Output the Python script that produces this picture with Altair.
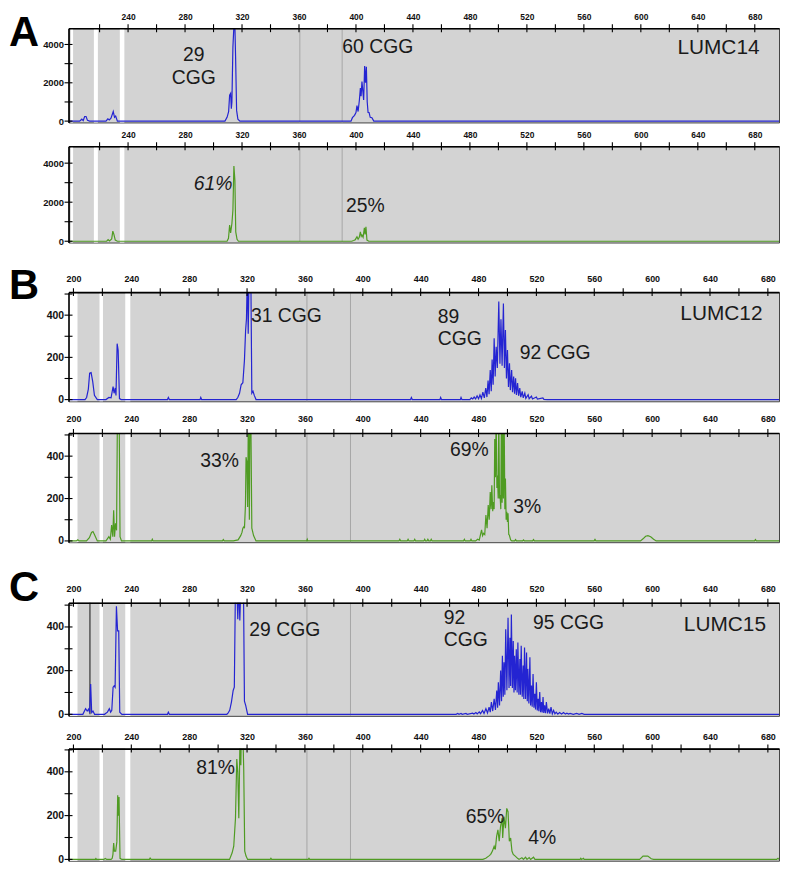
import altair as alt
import pandas as pd

# ---------------- axes / scale data ----------------
A_XDOM = [198.2, 697.0]
BC_XDOM = [196.6, 687.7]
A_XTICKS = [220, 240, 260, 280, 300, 320, 340, 360, 380, 400, 420, 440, 460, 480, 500,
            520, 540, 560, 580, 600, 620, 640, 660, 680]
A_XLABELS = [240, 280, 320, 360, 400, 440, 480, 520, 560, 600, 640, 680]
BC_XTICKS = [200] + A_XTICKS
BC_XLABELS = [200] + A_XLABELS
A_YTICKS = [0, 1000, 2000, 3000, 4000]
A_YLABELS = [0, 2000, 4000]
BC_YTICKS = [0, 100, 200, 300, 400, 500]
BC_YLABELS = [0, 200, 400]

# white lanes and grey marker lines
A_WHITE_START = [199.8, 216.0, 234.2]
A_WHITE_END = [201.4, 218.8, 237.4]
BC_WHITE_START = [196.6, 218.0, 235.8]
BC_WHITE_END = [202.8, 220.4, 239.3]
A_GREY = [360.6, 390.3]
BC_GREY = [361.4, 391.5]

# ---------------- traces (size, intensity) ----------------
A1_TRACE = [
    (198.2, 0), (206, 0), (207.5, 100), (208.5, 20), (209.5, 240), (210.5, 240), (211.5, 40), (213, 0),
    (224.5, 0), (225.8, 120), (226.8, 60), (228, 150), (229.6, 500), (230.5, 200), (231.3, 260), (232.5, 0),
    (308, 0), (309.5, 200), (310.6, 500), (311.3, 1360), (312.0, 1450), (312.5, 650), (312.9, 1000),
    (313.6, 3850), (314.3, 4950), (315.0, 4950), (315.5, 3300), (316.2, 560), (317.1, 100), (318.5, 0),
    (396.5, 0), (397.5, 180), (399, 300), (400.0, 450), (400.7, 810), (401.5, 500), (402.4, 1100),
    (403.1, 1720), (403.6, 1300), (404.2, 2060), (404.8, 1580), (405.4, 1100), (406.1, 2870),
    (406.7, 2000), (407.3, 2840), (407.9, 1000), (408.5, 450), (409.2, 450), (410, 200), (411.2, 180),
    (412.5, 0), (697, 0)]

A2_TRACE = [
    (198.2, 0), (225, 0), (226, 80), (227, 20), (228.5, 120), (229.3, 520), (230.1, 340), (231.0, 60), (232.5, 0),
    (309.5, 0), (310.5, 150), (311.3, 825), (312.0, 430), (312.9, 910), (313.6, 1590), (314.3, 3850),
    (315.0, 3120), (315.6, 480), (316.5, 100), (317.5, 0),
    (397, 0), (398.4, 40), (399.5, 80), (400.7, 230), (401.5, 100), (402.3, 200), (403.1, 485),
    (403.7, 250), (404.2, 316), (405.0, 200), (405.9, 690), (406.4, 350), (407.0, 740), (407.7, 60),
    (409, 0), (697, 0)]

B1_TRACE = [
    (196.6, 0), (208, 0), (209.1, 10), (210.3, 50), (211.2, 125), (212.2, 128), (213.3, 86), (214.5, 20),
    (216.5, 0), (222.5, 0), (224.5, 10), (226, 8), (227.4, 62), (228.1, 30), (228.9, 55), (229.4, 20),
    (230.2, 265), (230.9, 234), (231.8, 5), (233, 0), (265, 0), (265.6, 10), (266.3, 0), (287.5, 0),
    (288, 10), (288.6, 0), (312.5, 0), (313.6, 10), (314.8, 30), (315.9, 70), (317.1, 80), (318.2, 187),
    (319, 328), (319.6, 383), (320.2, 600), (320.8, 312), (321.4, 600), (322.6, 600), (323.3, 31),
    (324.1, 40), (325, 20), (326.2, 0), (433, 0), (433.6, 10), (434.2, 0), (453.3, 0), (453.8, 10),
    (454.4, 0), (467.4, 0), (467.9, 10), (468.5, 0), (474, 0), (475, 8), (476, 3), (477, 12), (478, 3),
    (479, 18), (480, 4), (481, 22), (482, 5), (483, 35), (484, 8), (485, 55), (485.8, 12), (486.6, 90),
    (487.3, 25), (488.1, 140), (488.8, 40), (489.4, 190), (490.1, 70), (490.8, 290), (491.5, 110),
    (492.2, 250), (493.0, 150), (494.0, 465), (494.8, 170), (495.5, 380), (496.3, 160), (497.2, 455),
    (497.9, 150), (498.6, 330), (499.3, 100), (500.0, 235), (500.7, 60), (501.4, 172), (502.0, 45),
    (502.9, 140), (503.5, 35), (504.3, 109), (504.9, 28), (505.6, 101), (506.2, 22), (507.0, 78),
    (507.7, 18), (508.5, 55), (509.2, 12), (510.2, 39), (510.9, 8), (512.0, 31), (512.7, 6),
    (514.3, 23), (515.0, 4), (516.6, 16), (517.3, 3), (520.0, 12), (520.7, 2), (524.5, 8), (525.2, 1),
    (527.5, 0), (687.7, 0)]

B2_TRACE = [
    (196.6, 0), (202, 0), (203, 5), (204, 0), (209, 0), (211, 15), (212.5, 40), (213.5, 44), (214.5, 30),
    (216.5, 0), (222.5, 0), (224.5, 20), (225.5, 8), (226.4, 75), (227.2, 20), (227.8, 145), (228.4, 20),
    (229.1, 83), (229.8, 50), (230.4, 600), (231.1, 600), (231.6, 600), (232.2, 20), (233.2, 0),
    (254, 0), (254.5, 8), (255, 0), (303, 0), (303.6, 6), (304.2, 0), (310.5, 0), (313.8, 5),
    (315.6, 25), (316.5, 40), (317.1, 60), (317.8, 67), (318.2, 60), (318.9, 169), (319.3, 395),
    (319.9, 372), (320.4, 160), (320.9, 600), (321.6, 100), (322.0, 600), (322.6, 600), (323.3, 60),
    (324.5, 25), (326.2, 0), (361.2, 0), (361.6, 8), (362, 0), (425, 0), (425.6, 8), (426.2, 0),
    (430.7, 0), (431.3, 8), (431.9, 0), (435.3, 0), (435.9, 8), (436.5, 0), (442.2, 0), (442.8, 8),
    (443.4, 0), (444.4, 0), (445, 8), (445.6, 0), (446.7, 0), (447.3, 8), (447.9, 0), (469.6, 0),
    (470.2, 8), (470.8, 0), (474.2, 0), (474.8, 8), (475.4, 0), (478, 0), (479.4, 8), (480.5, 4),
    (482.1, 52), (482.8, 25), (483.5, 36), (484.3, 30), (485.1, 122), (485.9, 60), (486.7, 169),
    (487.4, 100), (488.1, 231), (488.7, 150), (489.2, 262), (489.8, 140), (490.3, 184), (490.8, 150),
    (491.2, 481), (491.7, 300), (492.2, 600), (492.7, 250), (493.1, 309), (493.6, 200), (494.0, 600),
    (494.5, 200), (494.9, 216), (495.4, 150), (495.8, 600), (496.3, 180), (496.7, 520), (497.2, 200),
    (497.7, 600), (498.2, 150), (498.6, 294), (499.1, 100), (499.5, 138), (500.0, 90), (500.4, 130),
    (500.9, 30), (501.3, 28), (502.2, 5), (503, 0), (505, 0), (505.6, 6), (506.2, 0), (510.5, 0),
    (511.1, 5), (511.7, 0), (517.4, 0), (518, 6), (518.6, 0), (559.9, 0), (560.5, 7), (561.1, 0),
    (592, 0), (593.7, 10), (595.5, 22), (597.1, 25), (599, 20), (601, 8), (602.8, 0), (670.8, 0),
    (671.4, 6), (672, 0), (687.7, 0)]

C1_TRACE = [
    (196.6, 0), (206.5, 0), (208.4, 26), (209.5, 15), (210.5, 24), (211.2, 8), (211.9, 139), (212.6, 8),
    (213.5, 15), (214.6, 0), (221.5, 0), (222.2, 4), (223.5, 10), (224.8, 26), (225.7, 10), (226.5, 18),
    (227.4, 124), (228.1, 130), (228.8, 124), (229.7, 495), (230.5, 382), (231.3, 382), (232, 10),
    (233.5, 0), (265, 0), (265.6, 10), (266.3, 0), (306.0, 0), (306.7, 4), (308, 18), (309.2, 56),
    (310.4, 109), (311.2, 124), (312.0, 600), (312.9, 600), (313.6, 435), (314.3, 600), (315.0, 430),
    (315.8, 600), (316.8, 600), (317.5, 600), (318.2, 60), (319.1, 40), (320.4, 0),
    (464.5, 0), (465.6, 4), (466.5, 0), (467.9, 4), (468.7, 0), (471.3, 4), (472.2, 0), (475.9, 5),
    (476.8, 1), (478.2, 8), (479.1, 2), (480.5, 11), (481.4, 3), (482.8, 18), (483.8, 4), (485.1, 26),
    (486.2, 6), (487.3, 33), (488.1, 10), (488.9, 56), (489.8, 15), (490.8, 71), (491.7, 20),
    (492.6, 109), (493.2, 30), (493.7, 147), (494.5, 40), (495.3, 200), (495.9, 60), (496.5, 268),
    (497.1, 80), (497.6, 238), (498.2, 90), (498.8, 389), (499.6, 110), (500.4, 442), (501.1, 120),
    (501.7, 351), (502.2, 130), (502.7, 457), (503.4, 120), (504.0, 336), (504.5, 100), (504.9, 268),
    (505.5, 110), (506.1, 298), (506.7, 100), (507.2, 329), (507.9, 90), (508.6, 253), (509.0, 90),
    (509.5, 314), (510.2, 80), (510.9, 223), (511.3, 70), (511.8, 306), (512.5, 70), (513.2, 283),
    (513.7, 60), (514.1, 208), (514.8, 50), (515.5, 261), (516.0, 40), (516.6, 132), (517.1, 35),
    (517.7, 185), (518.3, 30), (518.9, 94), (519.4, 22), (520.0, 147), (520.6, 18), (521.2, 71),
    (521.7, 14), (522.3, 102), (522.9, 10), (523.5, 56), (524.0, 8), (524.6, 79), (525.1, 6),
    (525.7, 41), (526.3, 5), (526.9, 56), (527.7, 4), (528.5, 26), (529.3, 3), (530.1, 33), (531.0, 2),
    (531.9, 18), (532.8, 2), (533.7, 10), (534.8, 1), (536.0, 8), (537.4, 1), (538.8, 8), (540.0, 1),
    (541.1, 5), (542.2, 1), (543.3, 4), (545.5, 0), (547.9, 4), (549.5, 0), (551.4, 4), (553, 0),
    (687.7, 0)]

C2_TRACE = [
    (196.6, 0), (215, 0), (215.5, 4), (216, 0), (221, 0), (222, 4), (223, 0), (226, 0), (226.8, 5),
    (227.3, 23), (227.8, 75), (228.3, 38), (229.2, 38), (230.0, 80), (230.6, 293), (231.0, 200),
    (231.5, 285), (232.2, 5), (233.5, 0), (252.5, 0), (253, 6), (253.7, 0), (307.9, 0), (309.7, 30),
    (310.8, 60), (312.0, 188), (312.9, 458), (313.6, 398), (314.3, 188), (314.8, 413), (315.2, 600),
    (315.7, 430), (316.1, 600), (317.0, 600), (317.7, 413), (318.4, 38), (319.3, 15), (320.4, 0),
    (336, 0), (336.5, 5), (337, 0), (362.3, 0), (362.8, 5), (363.3, 0),
    (483, 0), (485, 5), (487, 15), (488.4, 23), (489.6, 38), (490.8, 60), (491.6, 45), (492.5, 105),
    (493.4, 135), (494.3, 83), (495.2, 150), (496.3, 188), (496.7, 98), (497.6, 195), (498.6, 143),
    (499.5, 233), (500.4, 218), (501.3, 83), (502.2, 98), (503.1, 38), (504, 23), (505.4, 15), (507, 5),
    (508, 0), (510, 8), (511, 0), (512.5, 10), (513.5, 0), (515, 8), (516, 0), (518, 10), (519, 0),
    (550.2, 0), (550.7, 5), (551.3, 0), (552.5, 5), (553, 0), (591.4, 0), (593.7, 15), (597, 15),
    (599.4, 3), (601, 0), (686, 0), (687, 5), (687.7, 0)]

C1_BLACK_X = [211.4]

# ---------------- annotations (text, x, y, align, italic, size) ----------------
A1_TEXT = [("29", 286.2, 3442, "center", False, 19.5), ("CGG", 286.2, 2239, "center", False, 19.5),
           ("60 CGG", 415.3, 3870, "center", False, 19.5), ("LUMC14", 654.5, 3818, "center", False, 21)]
A2_TEXT = [("61%", 299.7, 2950, "center", True, 19.5), ("25%", 406.6, 1809, "center", False, 19.5)]
B1_TEXT = [("31 CGG", 347.2, 398, "center", False, 19.5), ("89", 451.9, 393, "left", False, 19.5),
           ("CGG", 451.9, 286, "left", False, 19.5), ("92 CGG", 533.0, 221, "center", False, 19.5),
           ("LUMC12", 647.9, 406, "center", False, 21)]
B2_TEXT = [("33%", 301.0, 379, "center", False, 19.5), ("69%", 473.7, 431, "center", False, 19.5),
           ("3%", 513.7, 161, "center", False, 19.5)]
C1_TEXT = [("29 CGG", 346.1, 386, "center", False, 19.5), ("92", 456.0, 443, "left", False, 19.5),
           ("CGG", 456.0, 340, "left", False, 19.5), ("95 CGG", 542.2, 417, "center", False, 19.5),
           ("LUMC15", 650.3, 409, "center", False, 21)]
C2_TEXT = [("81%", 298.3, 416, "center", False, 19.5), ("65%", 484.6, 195, "center", False, 19.5),
           ("4%", 524.0, 98, "center", False, 19.5)]

PANEL_LETTERS = ["A", "B", "C"]

BLUE = "#2424d2"
GREEN = "#4f9b22"
W = 716
FONT = "Liberation Sans"


def panel(trace, color, xdom, ydom, h, xticks, xlabels, yticks, ylabels, ws, we, greys,
          texts, lpad, xfs, yfs, letter=None, letter_y=0, black=None):
    xs = alt.Scale(domain=xdom, nice=False, zero=False)
    ys = alt.Scale(domain=ydom, nice=False, zero=False)
    xaxis = alt.Axis(orient="top", values=xlabels, ticks=False, labelPadding=lpad, format="d",
                     labelFont=FONT, labelFontWeight="bold", labelFontSize=xfs,
                     labelColor="#111", labelFlush=False, labelOverlap=False,
                     domainColor="#000", domainWidth=1.6, grid=False, title=None, zindex=2)
    yaxis = alt.Axis(orient="left", values=ylabels, ticks=False, labelPadding=5, format="d",
                     labelFont=FONT, labelFontWeight="bold", labelFontSize=yfs,
                     labelColor="#111", labelFlush=False, labelOverlap=False,
                     domainColor="#000", domainWidth=1.6, grid=False, title=None, zindex=2)

    def X(f):
        return alt.X(f, scale=xs, axis=xaxis)

    def Y(f):
        return alt.Y(f, scale=ys, axis=yaxis)

    layers = []
    wdf = pd.DataFrame({"x0": ws, "x1": we})
    layers.append(alt.Chart(wdf).mark_rect(color="white").encode(
        x=X("x0:Q"), x2="x1:Q", y=alt.value(0), y2=alt.value(h)))
    gdf = pd.DataFrame({"x": greys})
    layers.append(alt.Chart(gdf).mark_rule(color="#a6a6a6", strokeWidth=1).encode(
        x=X("x:Q"), y=alt.value(0), y2=alt.value(h)))
    if black is not None:
        bdf = pd.DataFrame({"x": black, "y0": [0] * len(black), "y1": [ydom[1]] * len(black)})
        layers.append(alt.Chart(bdf).mark_rule(color="#333", strokeWidth=1.2).encode(
            x=X("x:Q"), y=Y("y0:Q"), y2="y1:Q"))
    tdf = pd.DataFrame(trace, columns=["x", "y"])
    layers.append(alt.Chart(tdf).mark_line(color=color, strokeWidth=1.2, clip=True).encode(
        x=X("x:Q"), y=Y("y:Q")))
    txt = pd.DataFrame(texts, columns=["t", "x", "y", "align", "italic", "s"])
    for al in ["center", "left"]:
        for it in [False, True]:
            sub = txt[(txt["align"] == al) & (txt["italic"] == it)]
            if len(sub) == 0:
                continue
            layers.append(alt.Chart(sub).mark_text(
                font=FONT, color="#1a1a1a", align=al, baseline="middle",
                fontStyle="italic" if it else "normal").encode(
                x=X("x:Q"), y=Y("y:Q"), text="t:N", size=alt.Size("s:Q", scale=None, legend=None)))
    xt = pd.DataFrame({"t": xticks})
    layers.append(alt.Chart(xt).mark_rule(color="#000", strokeWidth=1.1).encode(
        x=X("t:Q"), y=alt.value(-4), y2=alt.value(4)))
    yt = pd.DataFrame({"t": yticks})
    layers.append(alt.Chart(yt).mark_rule(color="#000", strokeWidth=1.1).encode(
        y=Y("t:Q"), x=alt.value(-4), x2=alt.value(4)))
    if letter is not None:
        ldf = pd.DataFrame({"t": [letter]})
        layers.append(alt.Chart(ldf).mark_text(
            font=FONT, fontSize=42, fontWeight="bold", color="#000", align="left",
            baseline="alphabetic").encode(x=alt.value(-60), y=alt.value(letter_y), text="t:N"))
    return alt.layer(*layers).properties(width=W, height=h)


A1 = panel(A1_TRACE, BLUE, A_XDOM, [-70, 4850], 95, A_XTICKS, A_XLABELS, A_YTICKS, A_YLABELS,
           A_WHITE_START, A_WHITE_END, A_GREY, A1_TEXT, 7, 8.5, 9.5, PANEL_LETTERS[0], 18.3)
A2 = panel(A2_TRACE, GREEN, A_XDOM, [-66, 4865], 97, A_XTICKS, A_XLABELS, A_YTICKS, A_YLABELS,
           A_WHITE_START, A_WHITE_END, A_GREY, A2_TEXT, 7, 8.5, 9.5)
B1 = panel(B1_TRACE, BLUE, BC_XDOM, [-8, 509], 110, BC_XTICKS, BC_XLABELS, BC_YTICKS, BC_YLABELS,
           BC_WHITE_START, BC_WHITE_END, BC_GREY, B1_TEXT, 9, 9, 10.5, PANEL_LETTERS[1], 6.6)
B2 = panel(B2_TRACE, GREEN, BC_XDOM, [-6, 509], 110, BC_XTICKS, BC_XLABELS, BC_YTICKS, BC_YLABELS,
           BC_WHITE_START, BC_WHITE_END, BC_GREY, B2_TEXT, 10, 9, 10.5)
C1 = panel(C1_TRACE, BLUE, BC_XDOM, [-7, 511], 114, BC_XTICKS, BC_XLABELS, BC_YTICKS, BC_YLABELS,
           BC_WHITE_START, BC_WHITE_END, BC_GREY, C1_TEXT, 9, 9, 10.5, PANEL_LETTERS[2], -2, C1_BLACK_X)
C2 = panel(C2_TRACE, GREEN, BC_XDOM, [-6, 506], 113, BC_XTICKS, BC_XLABELS, BC_YTICKS, BC_YLABELS,
           BC_WHITE_START, BC_WHITE_END, BC_GREY, C2_TEXT, 7, 9, 10.5)

A = alt.vconcat(A1, A2, spacing=24, bounds="flush")
B = alt.vconcat(B1, B2, spacing=32, bounds="flush")
C = alt.vconcat(C1, C2, spacing=33, bounds="flush")
AB = alt.vconcat(A, B, spacing=18)
chart = alt.vconcat(AB, C, spacing=19).properties(
    padding={"left": 0, "top": 0, "right": 0, "bottom": 0}, background="white"
).configure_view(fill="#d3d3d3", stroke="#444", strokeWidth=1)

chart.save("out.html", embed_options={"renderer": "svg", "actions": False})
